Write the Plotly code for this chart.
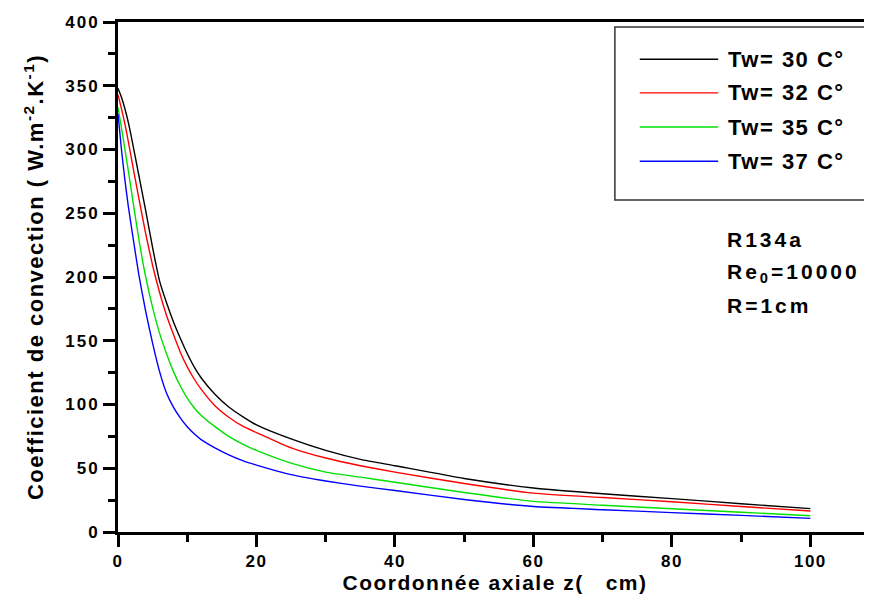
import plotly.graph_objects as go

z = [0, 0.5, 1, 1.5, 2, 3, 4, 5, 6, 7, 8, 9, 10, 11, 12, 14, 16, 18, 20, 25, 30, 35, 40, 50, 60, 70, 80, 90, 100]

h_30 = [348, 341, 332, 321, 308, 280, 252, 223, 197, 180, 165, 152, 140, 129.5, 121, 108, 98, 90.5, 84, 73, 64, 57, 52, 42, 34.5, 30, 26.2, 22.2, 18.3]
h_32 = [343, 332, 320, 306, 291, 262, 234, 209, 188, 170, 155, 141, 129.5, 120, 112, 99, 90, 83, 78, 66, 58, 52, 47, 38, 30.5, 27, 23.7, 20, 16.5]
h_35 = [333, 317, 300, 283, 265, 230, 200, 176, 156, 140, 126, 114.5, 105, 97.5, 91.5, 82.6, 75, 69, 64, 54, 47, 43, 39, 31, 24, 21, 18.2, 15.5, 12.8]
h_37 = [328, 300, 276, 255, 237, 202, 173, 148, 126, 109, 98, 89.5, 82.5, 77, 72.5, 66, 60.5, 56, 52.5, 45, 40, 36, 32.5, 25.5, 20, 17.5, 15.2, 13, 10.7]

series_names = ["Tw= 30 C°", "Tw= 32 C°", "Tw= 35 C°", "Tw= 37 C°"]
series_values = [h_30, h_32, h_35, h_37]
colors = ["#000000", "#ff0000", "#00e000", "#0000ff"]

x_ticks = [0, 20, 40, 60, 80, 100]
y_ticks = [0, 50, 100, 150, 200, 250, 300, 350, 400]
x_title = "Coordonnée axiale z(   cm)"
y_title = "Coefficient de convection ( W.m<sup>-2</sup>.K<sup>-1</sup>)"
info_lines = ["R134a", "Re<sub>0</sub>=10000", "R=1cm"]


def spaced(t, px):
    return "<span style='letter-spacing:%spx'>%s</span>" % (px, t)


fig = go.Figure()
for name, vals, col in zip(series_names, series_values, colors):
    fig.add_trace(go.Scatter(x=z, y=vals, mode="lines", name=name,
                             line=dict(color=col, width=1.4, shape="spline", smoothing=0.5),
                             showlegend=False))

FONT = "Liberation Sans, Arial, sans-serif"

# page body has an 8px margin: figure is sized so the plot sits where the reference has it
fig.update_layout(
    width=864, height=591,
    margin=dict(l=110, r=0, t=14, b=67),
    paper_bgcolor="white", plot_bgcolor="white",
    font=dict(family=FONT, color="black"),
    xaxis=dict(range=[0, 108.9], tickvals=x_ticks, ticktext=[spaced(v, 1.5) for v in x_ticks],
               ticks="outside", ticklen=12, tickwidth=3, tickcolor="black",
               minor=dict(ticks="outside", ticklen=7, tickwidth=3, dtick=10, tick0=0, tickcolor="black"),
               showline=True, linewidth=3, linecolor="black", mirror=True,
               showgrid=False, zeroline=False,
               tickfont=dict(size=17, weight="bold", family=FONT),
               title=dict(text=spaced(x_title, 1.5), font=dict(size=21, weight="bold", family=FONT), standoff=1)),
    yaxis=dict(range=[0, 400], tickvals=y_ticks, ticktext=[spaced(v, 2) for v in y_ticks],
               ticks="outside", ticklen=12, tickwidth=3, tickcolor="black",
               minor=dict(ticks="outside", ticklen=7, tickwidth=3, dtick=25, tick0=0, tickcolor="black"),
               showline=True, linewidth=3, linecolor="black",
               showgrid=False, zeroline=False,
               tickfont=dict(size=17, weight="bold", family=FONT),
               title=dict(text=spaced(y_title, 1.5), font=dict(size=22, weight="bold", family=FONT), standoff=16)),
)

# legend box
fig.add_shape(type="rect", xref="paper", yref="paper", x0=0.659, x1=0.9987, y0=0.651, y1=0.990,
              line=dict(color="#333333", width=1.5), fillcolor="white", layer="above")
leg_y = [0.927, 0.861, 0.794, 0.727]
for name, col, yy in zip(series_names, colors, leg_y):
    fig.add_shape(type="line", xref="paper", yref="paper", x0=0.692, x1=0.796, y0=yy, y1=yy,
                  line=dict(color=col, width=1.4), layer="above")
    fig.add_annotation(xref="paper", yref="paper", x=0.806, y=yy, text=spaced(name, 1.5), showarrow=False,
                       xanchor="left", yanchor="middle",
                       font=dict(size=22, weight="bold", family=FONT, color="black"))

info_y = [(532 - 239) / 510, (532 - 273) / 510, (532 - 305) / 510]
for t, yy in zip(info_lines, info_y):
    fig.add_annotation(xref="paper", yref="paper", x=(725 - 118) / 754, y=yy, text=spaced(t, 3),
                       showarrow=False, xanchor="left", yanchor="middle",
                       font=dict(size=21, weight="bold", family=FONT, color="black"))

fig.write_html("out.html")
